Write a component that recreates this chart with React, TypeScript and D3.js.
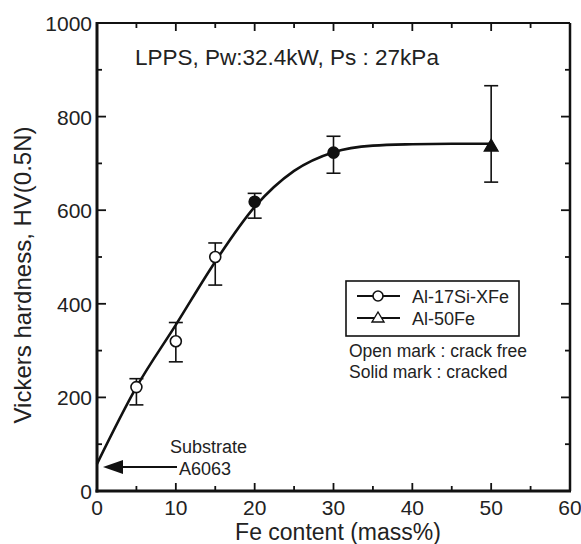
import React from "react";
import * as d3 from "d3";

const W = 581;
const H = 544;

// Data
const alSiFe = [5, 10, 15, 20, 30];
const alSiHV = [222, 320, 500, 618, 723];
const alSiErrLo = [184, 276, 440, 583, 679];
const alSiErrHi = [240, 360, 530, 636, 758];
const alSiCracked = [false, false, false, true, true];

const al50Fe = [50];
const al50HV = [737];
const al50ErrLo = [660];
const al50ErrHi = [866];

const fitFe = [0, 5, 10, 15, 20, 25, 30, 35, 40, 45, 50];
const fitHV = [58, 222, 355, 490, 607, 684, 724, 738, 741, 742, 742];

const xTicks = [0, 10, 20, 30, 40, 50, 60];
const yTicks = [0, 200, 400, 600, 800, 1000];

const FONT = "'Liberation Sans', Arial, Helvetica, sans-serif";

export default function App() {
  const x = d3.scaleLinear().domain([0, 60]).range([97, 570]);
  const y = d3.scaleLinear().domain([0, 1000]).range([491, 23]);

  const line = d3
    .line<number>()
    .x((d) => x(fitFe[d]))
    .y((d) => y(fitHV[d]))
    .curve(d3.curveMonotoneX);
  const path = line(fitFe.map((_, i) => i)) || "";

  const minorX = d3.range(0, 61, 5);
  const minorY = d3.range(0, 1001, 100);

  const cap = 7;

  return (
    <svg
      width={W}
      height={H}
      style={{ position: "absolute", left: 0, top: 0, background: "#fff" }}
      fontFamily={FONT}
    >
      <rect x={0} y={0} width={W} height={H} fill="#fff" />
      {/* ticks */}
      <g stroke="#111" strokeWidth={1.8}>
        {minorX.map((v) => {
          const major = v % 10 === 0;
          const len = major ? 8 : 5;
          return (
            <g key={"tx" + v}>
              <line x1={x(v)} x2={x(v)} y1={y(0)} y2={y(0) - len} />
              <line x1={x(v)} x2={x(v)} y1={y(1000)} y2={y(1000) + len} />
            </g>
          );
        })}
        {minorY.map((v) => {
          const major = v % 200 === 0;
          const len = major ? 9 : 5;
          return (
            <g key={"ty" + v}>
              <line x1={x(0)} x2={x(0) + len} y1={y(v)} y2={y(v)} />
              <line x1={x(60)} x2={x(60) - len} y1={y(v)} y2={y(v)} />
            </g>
          );
        })}
      </g>
      {/* frame */}
      <line x1={x(0)} x2={x(60)} y1={y(1000)} y2={y(1000)} stroke="#111" strokeWidth={2.2} />
      <line x1={x(60)} x2={x(60)} y1={y(1000)} y2={y(0)} stroke="#111" strokeWidth={2.5} />
      <line x1={x(0)} x2={x(0)} y1={y(1000) - 1} y2={y(0) + 1.5} stroke="#111" strokeWidth={3} />
      <line x1={x(0) - 1.5} x2={x(60) + 1} y1={y(0)} y2={y(0)} stroke="#111" strokeWidth={3} />

      {/* tick labels */}
      <g fontSize={21} fill="#222">
        {xTicks.map((v) => (
          <text key={"xl" + v} x={x(v)} y={515} textAnchor="middle">
            {v}
          </text>
        ))}
        {yTicks.map((v) => (
          <text key={"yl" + v} x={92} y={y(v) + 8} textAnchor="end">
            {v}
          </text>
        ))}
      </g>

      {/* axis titles */}
      <text x={338} y={540} textAnchor="middle" fontSize={23} fill="#222">
        Fe content (mass%)
      </text>
      <text
        transform={`translate(31, ${275}) rotate(-90)`}
        textAnchor="middle"
        fontSize={24}
        fill="#222"
      >
        Vickers hardness, HV(0.5N)
      </text>

      {/* header */}
      <text x={135} y={65} fontSize={22.5} fill="#222">
        LPPS, Pw:32.4kW, Ps : 27kPa
      </text>

      {/* fitted curve */}
      <path d={path} fill="none" stroke="#111" strokeWidth={2.6} />

      {/* error bars */}
      <g stroke="#111" strokeWidth={1.6}>
        {alSiFe.map((f, i) => (
          <g key={"e" + i}>
            <line x1={x(f)} x2={x(f)} y1={y(alSiErrLo[i])} y2={y(alSiErrHi[i])} />
            <line x1={x(f) - cap} x2={x(f) + cap} y1={y(alSiErrLo[i])} y2={y(alSiErrLo[i])} />
            <line x1={x(f) - cap} x2={x(f) + cap} y1={y(alSiErrHi[i])} y2={y(alSiErrHi[i])} />
          </g>
        ))}
        {al50Fe.map((f, i) => (
          <g key={"e50" + i}>
            <line x1={x(f)} x2={x(f)} y1={y(al50ErrLo[i])} y2={y(al50ErrHi[i])} />
            <line x1={x(f) - cap} x2={x(f) + cap} y1={y(al50ErrLo[i])} y2={y(al50ErrLo[i])} />
            <line x1={x(f) - cap} x2={x(f) + cap} y1={y(al50ErrHi[i])} y2={y(al50ErrHi[i])} />
          </g>
        ))}
      </g>

      {/* markers */}
      {alSiFe.map((f, i) => (
        <circle
          key={"m" + i}
          cx={x(f)}
          cy={y(alSiHV[i])}
          r={5.5}
          fill={alSiCracked[i] ? "#111" : "#fff"}
          stroke="#111"
          strokeWidth={1.6}
        />
      ))}
      {al50Fe.map((f, i) => {
        const cx = x(f);
        const cy = y(al50HV[i]);
        return (
          <path
            key={"t" + i}
            d={`M${cx},${cy - 7} L${cx + 7},${cy + 5} L${cx - 7},${cy + 5} Z`}
            fill="#111"
            stroke="#111"
            strokeWidth={1.2}
          />
        );
      })}

      {/* substrate annotation */}
      <line x1={x(0) + 20} x2={177} y1={467} y2={467} stroke="#111" strokeWidth={2} />
      <path
        d={`M${x(0) + 6},467 L${x(0) + 26},460 L${x(0) + 26},474 Z`}
        fill="#111"
      />
      <text x={170} y={453} fontSize={18} fill="#222">
        Substrate
      </text>
      <text x={179} y={475} fontSize={18} fill="#222">
        A6063
      </text>

      {/* legend */}
      <rect x={346} y={281} width={173} height={55} fill="#fff" stroke="#111" strokeWidth={1.6} />
      <line x1={357} x2={400} y1={296} y2={296} stroke="#111" strokeWidth={1.8} />
      <circle cx={378} cy={296} r={5} fill="#fff" stroke="#111" strokeWidth={1.6} />
      <text x={412} y={302.5} fontSize={18} fill="#222">
        Al-17Si-XFe
      </text>
      <line x1={357} x2={400} y1={318} y2={318} stroke="#111" strokeWidth={1.8} />
      <path d="M378,312 L384,322 L372,322 Z" fill="#fff" stroke="#111" strokeWidth={1.4} />
      <text x={412} y={324.5} fontSize={18} fill="#222">
        Al-50Fe
      </text>
      <text x={349} y={357} fontSize={17.5} fill="#222">
        Open mark : crack free
      </text>
      <text x={349} y={378} fontSize={17.5} fill="#222">
        Solid mark : cracked
      </text>
    </svg>
  );
}
